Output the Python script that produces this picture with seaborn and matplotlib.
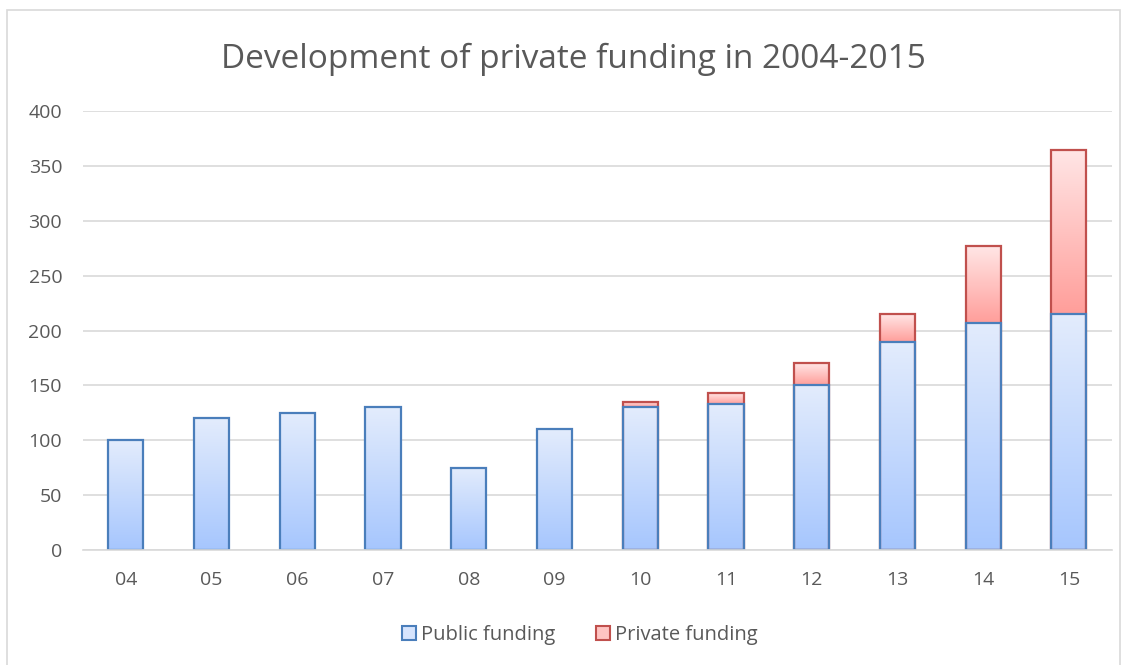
import numpy as np
import pandas as pd
import matplotlib
matplotlib.use("Agg")
import matplotlib.pyplot as plt
import seaborn as sns
from matplotlib.colors import LinearSegmentedColormap
from matplotlib.patches import Rectangle

# данные
years = ["04", "05", "06", "07", "08", "09", "10", "11", "12", "13", "14", "15"]
public_funding = [100, 120, 125, 130, 75, 110, 130, 133, 150, 190, 207, 215]
private_funding = [0, 0, 0, 0, 0, 0, 5, 10, 20, 25, 70, 150]

df = pd.DataFrame({"year": years, "public": public_funding, "private": private_funding})
df["total"] = df["public"] + df["private"]

sns.set_theme(style="white")
plt.rcParams["font.family"] = ["Open Sans", "DejaVu Sans"]

fig = plt.figure(figsize=(11.28, 6.65), dpi=100)
ax = fig.add_axes([0.0736, 0.1729, 0.912, 0.660])

text_col = "#595959"
blue_edge = "#4a7ebb"
red_edge = "#c0504d"

# суммарные столбцы (private сверху), затем public поверх
sns.barplot(data=df, x="year", y="total", ax=ax, width=0.41, color="#ffc9c8",
            edgecolor=red_edge, linewidth=1.6, saturation=1)
n_top = len(ax.patches)
sns.barplot(data=df, x="year", y="public", ax=ax, width=0.41, color="#d0e0fc",
            edgecolor=blue_edge, linewidth=1.6, saturation=1)

blue_cmap = LinearSegmentedColormap.from_list("b", ["#a6c6fe", "#e3ecfc"])
red_cmap = LinearSegmentedColormap.from_list("r", ["#ff9e9a", "#ffe6e6"])
grad = np.linspace(0, 1, 256).reshape(-1, 1)

for i, p in enumerate(ax.patches):
    x0, y0 = p.get_x(), p.get_y()
    w, h = p.get_width(), p.get_height()
    if h <= 0:
        continue
    if i < n_top:
        # градиент только для части private
        pub = df["public"].iloc[i]
        if df["private"].iloc[i] == 0:
            p.set_visible(False)
            continue
        ybot = pub
        cmap = red_cmap
    else:
        ybot = y0
        cmap = blue_cmap
    ytop = y0 + h
    p.set_facecolor("none")
    im = ax.imshow(grad, extent=[x0, x0 + w, ybot, ytop], origin="lower",
                   aspect="auto", cmap=cmap, zorder=p.get_zorder() - 0.1)
    clip = Rectangle((x0, ybot), w, ytop - ybot, transform=ax.transData)
    im.set_clip_path(clip)

ax.set_xlim(-0.5, 11.5)
ax.set_ylim(0, 400)
ax.set_yticks(range(0, 401, 50))
ax.yaxis.grid(True, color="#d9d9d9", linewidth=1.2)
ax.set_axisbelow(True)
for s in ["top", "right", "left"]:
    ax.spines[s].set_visible(False)
ax.spines["bottom"].set_color("#d9d9d9")
ax.spines["bottom"].set_linewidth(1.2)
ax.tick_params(axis="both", colors=text_col, labelsize=14, length=0)
ax.tick_params(axis="x", pad=15)
ax.tick_params(axis="y", pad=15)
ax.set_xlabel("")
ax.set_ylabel("")

fig.text(0.508, 0.911, "Development of private funding in 2004-2015",
         ha="center", va="center", fontsize=24, color=text_col)

handles = [
    Rectangle((0, 0), 1, 1, facecolor="#d6e4fd", edgecolor=blue_edge, linewidth=1.5),
    Rectangle((0, 0), 1, 1, facecolor="#ffc4c2", edgecolor=red_edge, linewidth=1.5),
]
fig.legend(handles, ["Public funding", "Private funding"], loc="center",
           bbox_to_anchor=(0.514, 0.045), ncol=2, frameon=False,
           fontsize=14.5, labelcolor=text_col, handlelength=0.7,
           handleheight=0.7, handletextpad=0.25, columnspacing=2.0)

# рамка вокруг диаграммы
fig.patches.append(Rectangle((0.006, -0.01), 0.987, 0.995, transform=fig.transFigure,
                             facecolor="none", edgecolor="#d9d9d9", linewidth=1.2))

fig.savefig("out.png", dpi=100)
